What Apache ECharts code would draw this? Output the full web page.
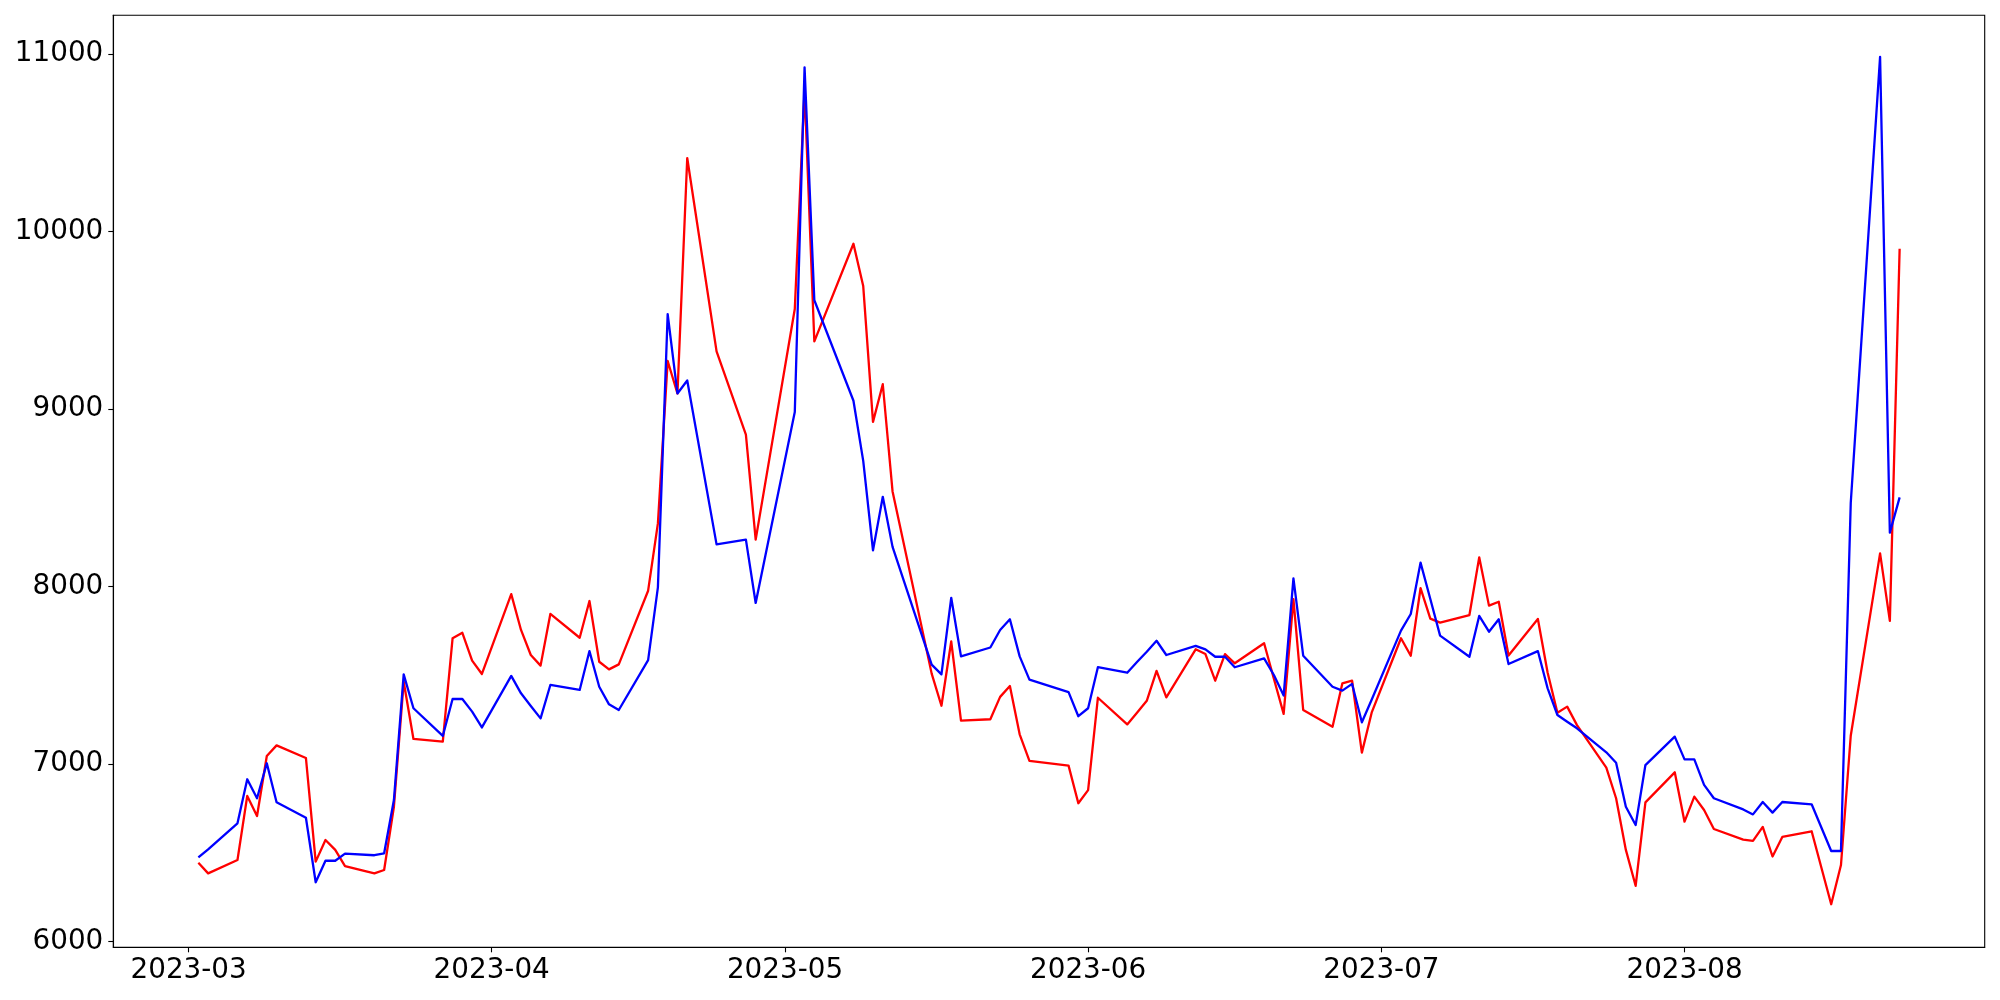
<!DOCTYPE html>
<html>
<head>
<meta charset="utf-8">
<script src="https://cdn.jsdelivr.net/npm/echarts@6/dist/echarts.min.js"></script>
<style>
  html, body { margin: 0; padding: 0; background: #ffffff; }
  #chart { width: 2000px; height: 1000px; }
</style>
</head>
<body>
<div id="chart"></div>
<script>
const dates = [
  '2023-03-02','2023-03-03','2023-03-06','2023-03-07','2023-03-08','2023-03-09','2023-03-10',
  '2023-03-13','2023-03-14','2023-03-15','2023-03-16','2023-03-17','2023-03-20','2023-03-21',
  '2023-03-22','2023-03-23','2023-03-24','2023-03-27','2023-03-28','2023-03-29','2023-03-30',
  '2023-03-31','2023-04-03','2023-04-04','2023-04-05','2023-04-06','2023-04-07','2023-04-10',
  '2023-04-11','2023-04-12','2023-04-13','2023-04-14','2023-04-17','2023-04-18','2023-04-19',
  '2023-04-20','2023-04-21','2023-04-24','2023-04-27','2023-04-28','2023-05-02','2023-05-03',
  '2023-05-04','2023-05-08','2023-05-09','2023-05-10','2023-05-11','2023-05-12','2023-05-16',
  '2023-05-17','2023-05-18','2023-05-19','2023-05-22','2023-05-23','2023-05-24','2023-05-25',
  '2023-05-26','2023-05-30','2023-05-31','2023-06-01','2023-06-02','2023-06-05','2023-06-06',
  '2023-06-07','2023-06-08','2023-06-09','2023-06-12','2023-06-13','2023-06-14','2023-06-15',
  '2023-06-16','2023-06-19','2023-06-20','2023-06-21','2023-06-22','2023-06-23','2023-06-26',
  '2023-06-27','2023-06-28','2023-06-29','2023-06-30','2023-07-03','2023-07-04','2023-07-05',
  '2023-07-06','2023-07-07','2023-07-10','2023-07-11','2023-07-12','2023-07-13','2023-07-14',
  '2023-07-17','2023-07-18','2023-07-19','2023-07-20','2023-07-21','2023-07-24','2023-07-25',
  '2023-07-26','2023-07-27','2023-07-28','2023-07-31','2023-08-01','2023-08-02','2023-08-03',
  '2023-08-04','2023-08-07','2023-08-08','2023-08-09','2023-08-10','2023-08-11','2023-08-14',
  '2023-08-16','2023-08-17','2023-08-18','2023-08-21','2023-08-22','2023-08-23'
];

const redValues = [
  6445,6385,6460,6821,6708,7046,7106,
  7035,6451,6573,6517,6426,6385,6404,
  6760,7464,7142,7127,7709,7740,7583,
  7508,7958,7756,7615,7555,7846,7712,
  7919,7577,7534,7562,7977,8356,9271,
  9088,10414,9325,8856,8265,9564,10800,
  9381,9931,9693,8928,9140,8536,7510,
  7329,7691,7245,7253,7379,7440,7168,
  7018,6992,6780,6854,7374,7224,7290,
  7357,7525,7376,7647,7620,7470,7620,
  7568,7681,7481,7283,7929,7305,7211,
  7455,7470,7065,7290,7709,7611,7991,
  7820,7797,7840,8165,7893,7915,7612,
  7818,7515,7290,7324,7220,6980,6808,
  6517,6315,6785,6954,6676,6817,6742,
  6635,6575,6568,6647,6480,6590,6622,
  6211,6432,7160,8187,7807,9903
];

const blueValues = [
  6475,6520,6667,6915,6808,7005,6785,
  6698,6335,6456,6456,6496,6487,6498,
  6798,7506,7315,7159,7367,7367,7296,
  7207,7497,7399,7328,7258,7446,7418,
  7637,7436,7337,7305,7586,7996,9535,
  9088,9161,8238,8265,7908,8983,10925,
  9613,9047,8708,8204,8506,8224,7561,
  7506,7937,7607,7657,7756,7816,7607,
  7476,7406,7270,7315,7546,7515,7575,
  7633,7695,7615,7666,7647,7605,7605,
  7546,7596,7502,7387,8047,7611,7436,
  7414,7452,7236,7363,7752,7846,8135,
  7930,7724,7605,7835,7746,7816,7564,
  7637,7427,7277,7239,7202,7067,7008,
  6760,6657,6995,7155,7027,7027,6883,
  6808,6745,6717,6787,6727,6787,6774,
  6511,6511,8471,10984,8304,8503
];

const xTickDates = ['2023-03-01','2023-04-01','2023-05-01','2023-06-01','2023-07-01','2023-08-01'];
const xTickLabels = ['2023-03','2023-04','2023-05','2023-06','2023-07','2023-08'];
const yTicks = [6000, 7000, 8000, 9000, 10000, 11000];
const yTickLabels = ['6000', '7000', '8000', '9000', '10000', '11000'];

function ts(s) {
  const p = s.split('-').map(Number);
  return Date.UTC(p[0], p[1] - 1, p[2]);
}

const times = dates.map(ts);
const xTickTimes = xTickDates.map(ts);
const tMin = times[0], tMax = times[times.length - 1];
const tPad = (tMax - tMin) * 0.05;

const redData = times.map((t, i) => [t, redValues[i]]);
const blueData = times.map((t, i) => [t, blueValues[i]]);

const FONT = 'DejaVu Sans';
const FS = 27.8;

const chart = echarts.init(document.getElementById('chart'), null, { renderer: 'canvas' });
chart.setOption({
  animation: false,
  backgroundColor: '#ffffff',
  grid: {
    left: 113.3, right: 15.3, top: 15.3, bottom: 52.7,
    show: true, borderColor: '#000000', borderWidth: 1.1, backgroundColor: 'transparent'
  },
  xAxis: {
    type: 'value',
    min: tMin - tPad,
    max: tMax + tPad,
    axisLine: { show: true, lineStyle: { color: '#000000', width: 1.1 } },
    axisTick: { show: true, length: 5, inside: false, customValues: xTickTimes,
                lineStyle: { color: '#000000', width: 1.1 } },
    axisLabel: {
      show: true, customValues: xTickTimes, margin: 9,
      fontFamily: FONT, fontSize: FS, color: '#000000',
      formatter: function (v) {
        const i = xTickTimes.indexOf(v);
        return i >= 0 ? xTickLabels[i] : '';
      }
    },
    splitLine: { show: false }
  },
  yAxis: {
    type: 'value',
    min: 5968.5,
    max: 11218,
    axisLine: { show: true, lineStyle: { color: '#000000', width: 1.1 } },
    axisTick: { show: true, length: 5, inside: false, customValues: yTicks,
                lineStyle: { color: '#000000', width: 1.1 } },
    axisLabel: {
      show: true, customValues: yTicks, margin: 10,
      fontFamily: FONT, fontSize: FS, color: '#000000',
      formatter: function (v) {
        const i = yTicks.indexOf(v);
        return i >= 0 ? yTickLabels[i] : '';
      }
    },
    splitLine: { show: false }
  },
  series: [
    {
      name: 'red', type: 'line', data: redData, symbol: 'none',
      lineStyle: { color: '#ff0000', width: 2.3, join: 'round' },
      itemStyle: { color: '#ff0000' }, z: 2
    },
    {
      name: 'blue', type: 'line', data: blueData, symbol: 'none',
      lineStyle: { color: '#0000ff', width: 2.3, join: 'round' },
      itemStyle: { color: '#0000ff' }, z: 3
    }
  ]
});
</script>
</body>
</html>
